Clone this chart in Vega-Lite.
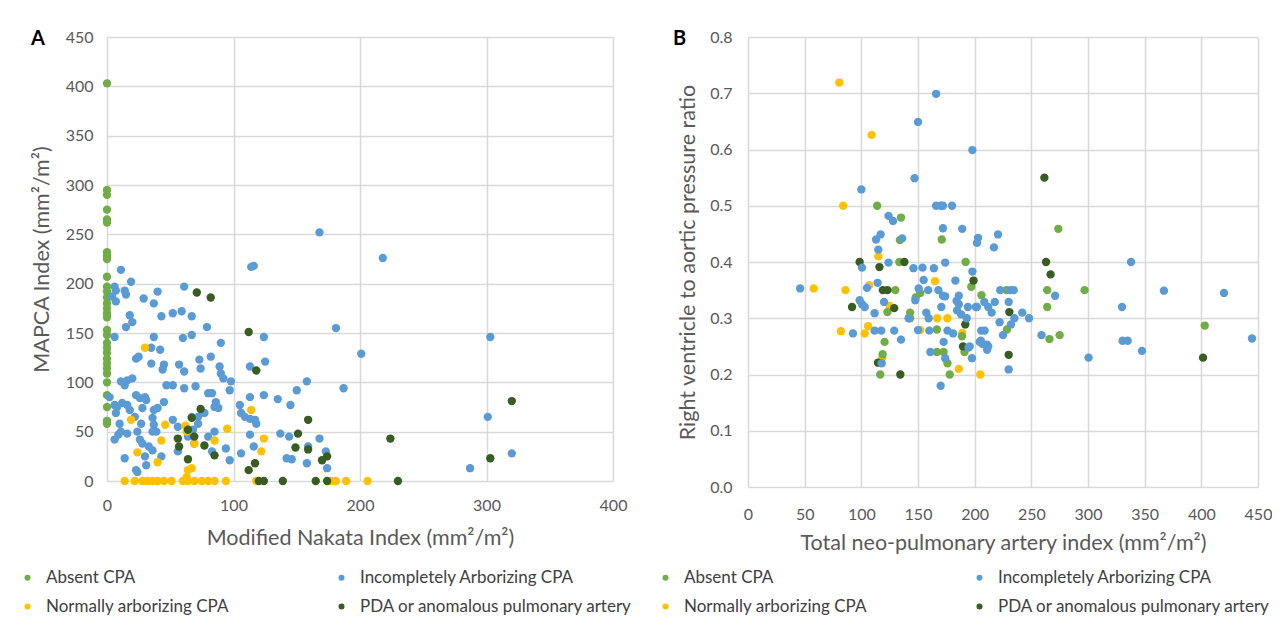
{
"$schema": "https://vega.github.io/schema/vega-lite/v6.json",
"padding": {"left": 19, "top": 29, "right": 0, "bottom": 0},
"background": "white",
"spacing": 24,
"config": {
  "view": {"stroke": null},
  "font": "Lato",
  "axis": {"grid": true, "gridColor": "#D9D9D9", "gridWidth": 1.5, "domain": false, "ticks": false, "tickSize": 0, "labelFlush": false, "labelFont": "Lato", "labelFontSize": 16, "labelColor": "#595959", "titleFont": "Lato", "titleFontSize": 21.5, "titleFontWeight": "normal", "titleColor": "#595959"},
  "legend": {"labelFont": "Lato", "labelFontSize": 17, "labelColor": "#404040", "labelLimit": 0, "symbolType": "circle", "symbolSize": 36, "symbolStrokeWidth": 0, "columns": 2, "columnPadding": 104, "rowPadding": 11, "labelOffset": 10, "title": null},
  "title": {"font": "Lato", "fontSize": 20, "fontWeight": "bold", "color": "#000000", "anchor": "start", "frame": "bounds"}
},
"datasets": {
"a": [
{"x":0,"y":403,"g":"Absent CPA"},{"x":0,"y":295,"g":"Absent CPA"},{"x":0,"y":290,"g":"Absent CPA"},{"x":0,"y":275,"g":"Absent CPA"},{"x":0,"y":265,"g":"Absent CPA"},{"x":0,"y":262,"g":"Absent CPA"},{"x":0,"y":232,"g":"Absent CPA"},{"x":0,"y":228,"g":"Absent CPA"},{"x":0,"y":225,"g":"Absent CPA"},{"x":0,"y":207,"g":"Absent CPA"},{"x":0,"y":197,"g":"Absent CPA"},{"x":0,"y":192,"g":"Absent CPA"},{"x":0,"y":186,"g":"Absent CPA"},{"x":0,"y":180,"g":"Absent CPA"},{"x":0,"y":175,"g":"Absent CPA"},{"x":0,"y":170,"g":"Absent CPA"},{"x":0,"y":166,"g":"Absent CPA"},{"x":0,"y":153,"g":"Absent CPA"},{"x":0,"y":148,"g":"Absent CPA"},{"x":0,"y":140,"g":"Absent CPA"},{"x":0,"y":135,"g":"Absent CPA"},{"x":0,"y":130,"g":"Absent CPA"},{"x":0,"y":124,"g":"Absent CPA"},{"x":0,"y":119,"g":"Absent CPA"},{"x":0,"y":114,"g":"Absent CPA"},{"x":0,"y":109,"g":"Absent CPA"},{"x":0,"y":100,"g":"Absent CPA"},{"x":0,"y":87,"g":"Absent CPA"},{"x":0,"y":75,"g":"Absent CPA"},{"x":0,"y":61,"g":"Absent CPA"},{"x":0,"y":58,"g":"Absent CPA"},
{"x":11,"y":214,"g":"Incompletely Arborizing CPA"},{"x":6,"y":197,"g":"Incompletely Arborizing CPA"},{"x":7,"y":193,"g":"Incompletely Arborizing CPA"},{"x":4,"y":187,"g":"Incompletely Arborizing CPA"},{"x":7,"y":182,"g":"Incompletely Arborizing CPA"},{"x":14,"y":193,"g":"Incompletely Arborizing CPA"},{"x":15,"y":189,"g":"Incompletely Arborizing CPA"},{"x":19,"y":202,"g":"Incompletely Arborizing CPA"},{"x":18,"y":168,"g":"Incompletely Arborizing CPA"},{"x":20,"y":161,"g":"Incompletely Arborizing CPA"},{"x":15,"y":156,"g":"Incompletely Arborizing CPA"},{"x":6,"y":146,"g":"Incompletely Arborizing CPA"},
{"x":29,"y":185,"g":"Incompletely Arborizing CPA"},{"x":37,"y":180,"g":"Incompletely Arborizing CPA"},{"x":40,"y":192,"g":"Incompletely Arborizing CPA"},{"x":43,"y":167,"g":"Incompletely Arborizing CPA"},{"x":52,"y":170,"g":"Incompletely Arborizing CPA"},{"x":59,"y":172,"g":"Incompletely Arborizing CPA"},{"x":61,"y":197,"g":"Incompletely Arborizing CPA"},{"x":67,"y":167,"g":"Incompletely Arborizing CPA"},{"x":79,"y":156,"g":"Incompletely Arborizing CPA"},{"x":60,"y":145,"g":"Incompletely Arborizing CPA"},{"x":67,"y":148,"g":"Incompletely Arborizing CPA"},{"x":37,"y":146,"g":"Incompletely Arborizing CPA"},{"x":35,"y":135,"g":"Incompletely Arborizing CPA"},{"x":42,"y":133,"g":"Incompletely Arborizing CPA"},{"x":23,"y":124,"g":"Incompletely Arborizing CPA"},{"x":25,"y":126,"g":"Incompletely Arborizing CPA"},{"x":35,"y":119,"g":"Incompletely Arborizing CPA"},{"x":45,"y":118,"g":"Incompletely Arborizing CPA"},{"x":44,"y":113,"g":"Incompletely Arborizing CPA"},{"x":57,"y":118,"g":"Incompletely Arborizing CPA"},{"x":61,"y":111,"g":"Incompletely Arborizing CPA"},{"x":73,"y":123,"g":"Incompletely Arborizing CPA"},{"x":74,"y":114,"g":"Incompletely Arborizing CPA"},{"x":82,"y":126,"g":"Incompletely Arborizing CPA"},{"x":90,"y":140,"g":"Incompletely Arborizing CPA"},{"x":89,"y":116,"g":"Incompletely Arborizing CPA"},{"x":90,"y":109,"g":"Incompletely Arborizing CPA"},{"x":92,"y":104,"g":"Incompletely Arborizing CPA"},{"x":98,"y":101,"g":"Incompletely Arborizing CPA"},{"x":97,"y":92,"g":"Incompletely Arborizing CPA"},
{"x":11,"y":101,"g":"Incompletely Arborizing CPA"},{"x":14,"y":97,"g":"Incompletely Arborizing CPA"},{"x":16,"y":102,"g":"Incompletely Arborizing CPA"},{"x":20,"y":104,"g":"Incompletely Arborizing CPA"},{"x":47,"y":97,"g":"Incompletely Arborizing CPA"},{"x":52,"y":97,"g":"Incompletely Arborizing CPA"},{"x":61,"y":94,"g":"Incompletely Arborizing CPA"},{"x":70,"y":96,"g":"Incompletely Arborizing CPA"},{"x":80,"y":89,"g":"Incompletely Arborizing CPA"},{"x":83,"y":89,"g":"Incompletely Arborizing CPA"},{"x":86,"y":80,"g":"Incompletely Arborizing CPA"},{"x":88,"y":74,"g":"Incompletely Arborizing CPA"},
{"x":2,"y":85,"g":"Incompletely Arborizing CPA"},{"x":6,"y":77,"g":"Incompletely Arborizing CPA"},{"x":7,"y":69,"g":"Incompletely Arborizing CPA"},{"x":10,"y":58,"g":"Incompletely Arborizing CPA"},{"x":8,"y":75,"g":"Incompletely Arborizing CPA"},{"x":12,"y":79,"g":"Incompletely Arborizing CPA"},{"x":16,"y":77,"g":"Incompletely Arborizing CPA"},{"x":18,"y":72,"g":"Incompletely Arborizing CPA"},{"x":22,"y":65,"g":"Incompletely Arborizing CPA"},{"x":23,"y":87,"g":"Incompletely Arborizing CPA"},{"x":26,"y":84,"g":"Incompletely Arborizing CPA"},{"x":30,"y":85,"g":"Incompletely Arborizing CPA"},{"x":31,"y":82,"g":"Incompletely Arborizing CPA"},{"x":28,"y":74,"g":"Incompletely Arborizing CPA"},{"x":37,"y":72,"g":"Incompletely Arborizing CPA"},{"x":40,"y":74,"g":"Incompletely Arborizing CPA"},{"x":45,"y":80,"g":"Incompletely Arborizing CPA"},{"x":36,"y":64,"g":"Incompletely Arborizing CPA"},{"x":37,"y":57,"g":"Incompletely Arborizing CPA"},{"x":36,"y":50,"g":"Incompletely Arborizing CPA"},{"x":39,"y":50,"g":"Incompletely Arborizing CPA"},{"x":27,"y":58,"g":"Incompletely Arborizing CPA"},{"x":52,"y":62,"g":"Incompletely Arborizing CPA"},{"x":56,"y":55,"g":"Incompletely Arborizing CPA"},{"x":67,"y":65,"g":"Incompletely Arborizing CPA"},{"x":72,"y":65,"g":"Incompletely Arborizing CPA"},{"x":77,"y":69,"g":"Incompletely Arborizing CPA"},{"x":85,"y":75,"g":"Incompletely Arborizing CPA"},{"x":72,"y":58,"g":"Incompletely Arborizing CPA"},{"x":85,"y":50,"g":"Incompletely Arborizing CPA"},
{"x":6,"y":42,"g":"Incompletely Arborizing CPA"},{"x":9,"y":47,"g":"Incompletely Arborizing CPA"},{"x":11,"y":50,"g":"Incompletely Arborizing CPA"},{"x":16,"y":48,"g":"Incompletely Arborizing CPA"},{"x":24,"y":50,"g":"Incompletely Arborizing CPA"},{"x":26,"y":42,"g":"Incompletely Arborizing CPA"},{"x":28,"y":38,"g":"Incompletely Arborizing CPA"},{"x":33,"y":35,"g":"Incompletely Arborizing CPA"},{"x":36,"y":31,"g":"Incompletely Arborizing CPA"},{"x":43,"y":25,"g":"Incompletely Arborizing CPA"},{"x":30,"y":25,"g":"Incompletely Arborizing CPA"},{"x":31,"y":16,"g":"Incompletely Arborizing CPA"},{"x":24,"y":9,"g":"Incompletely Arborizing CPA"},{"x":23,"y":11,"g":"Incompletely Arborizing CPA"},{"x":14,"y":23,"g":"Incompletely Arborizing CPA"},{"x":56,"y":30,"g":"Incompletely Arborizing CPA"},{"x":69,"y":38,"g":"Incompletely Arborizing CPA"},{"x":64,"y":45,"g":"Incompletely Arborizing CPA"},{"x":68,"y":52,"g":"Incompletely Arborizing CPA"},{"x":80,"y":45,"g":"Incompletely Arborizing CPA"},{"x":83,"y":30,"g":"Incompletely Arborizing CPA"},{"x":94,"y":33,"g":"Incompletely Arborizing CPA"},{"x":97,"y":21,"g":"Incompletely Arborizing CPA"},
{"x":105,"y":77,"g":"Incompletely Arborizing CPA"},{"x":106,"y":69,"g":"Incompletely Arborizing CPA"},{"x":109,"y":65,"g":"Incompletely Arborizing CPA"},{"x":113,"y":63,"g":"Incompletely Arborizing CPA"},{"x":117,"y":62,"g":"Incompletely Arborizing CPA"},{"x":118,"y":58,"g":"Incompletely Arborizing CPA"},{"x":113,"y":47,"g":"Incompletely Arborizing CPA"},{"x":116,"y":35,"g":"Incompletely Arborizing CPA"},{"x":106,"y":28,"g":"Incompletely Arborizing CPA"},{"x":113,"y":85,"g":"Incompletely Arborizing CPA"},{"x":124,"y":87,"g":"Incompletely Arborizing CPA"},{"x":135,"y":83,"g":"Incompletely Arborizing CPA"},{"x":145,"y":77,"g":"Incompletely Arborizing CPA"},{"x":150,"y":92,"g":"Incompletely Arborizing CPA"},{"x":158,"y":101,"g":"Incompletely Arborizing CPA"},{"x":113,"y":116,"g":"Incompletely Arborizing CPA"},{"x":125,"y":121,"g":"Incompletely Arborizing CPA"},{"x":124,"y":146,"g":"Incompletely Arborizing CPA"},{"x":114,"y":217,"g":"Incompletely Arborizing CPA"},{"x":116,"y":218,"g":"Incompletely Arborizing CPA"},{"x":137,"y":48,"g":"Incompletely Arborizing CPA"},{"x":144,"y":45,"g":"Incompletely Arborizing CPA"},{"x":142,"y":23,"g":"Incompletely Arborizing CPA"},{"x":146,"y":22,"g":"Incompletely Arborizing CPA"},{"x":159,"y":35,"g":"Incompletely Arborizing CPA"},{"x":158,"y":18,"g":"Incompletely Arborizing CPA"},{"x":168,"y":43,"g":"Incompletely Arborizing CPA"},{"x":173,"y":30,"g":"Incompletely Arborizing CPA"},{"x":174,"y":13,"g":"Incompletely Arborizing CPA"},
{"x":168,"y":252,"g":"Incompletely Arborizing CPA"},{"x":218,"y":226,"g":"Incompletely Arborizing CPA"},{"x":181,"y":155,"g":"Incompletely Arborizing CPA"},{"x":303,"y":146,"g":"Incompletely Arborizing CPA"},{"x":201,"y":129,"g":"Incompletely Arborizing CPA"},{"x":187,"y":94,"g":"Incompletely Arborizing CPA"},{"x":301,"y":65,"g":"Incompletely Arborizing CPA"},{"x":287,"y":13,"g":"Incompletely Arborizing CPA"},{"x":320,"y":28,"g":"Incompletely Arborizing CPA"},
{"x":30,"y":135,"g":"Normally arborizing CPA"},{"x":19,"y":62,"g":"Normally arborizing CPA"},{"x":24,"y":29,"g":"Normally arborizing CPA"},{"x":40,"y":19,"g":"Normally arborizing CPA"},{"x":43,"y":41,"g":"Normally arborizing CPA"},{"x":46,"y":57,"g":"Normally arborizing CPA"},{"x":62,"y":56,"g":"Normally arborizing CPA"},{"x":63,"y":50,"g":"Normally arborizing CPA"},{"x":69,"y":38,"g":"Normally arborizing CPA"},{"x":85,"y":41,"g":"Normally arborizing CPA"},{"x":95,"y":53,"g":"Normally arborizing CPA"},{"x":114,"y":72,"g":"Normally arborizing CPA"},{"x":124,"y":43,"g":"Normally arborizing CPA"},{"x":122,"y":30,"g":"Normally arborizing CPA"},{"x":63,"y":4,"g":"Normally arborizing CPA"},{"x":64,"y":11,"g":"Normally arborizing CPA"},{"x":67,"y":13,"g":"Normally arborizing CPA"},
{"x":14,"y":0,"g":"Normally arborizing CPA"},{"x":22,"y":0,"g":"Normally arborizing CPA"},{"x":28,"y":0,"g":"Normally arborizing CPA"},{"x":32,"y":0,"g":"Normally arborizing CPA"},{"x":36,"y":0,"g":"Normally arborizing CPA"},{"x":40,"y":0,"g":"Normally arborizing CPA"},{"x":45,"y":0,"g":"Normally arborizing CPA"},{"x":51,"y":0,"g":"Normally arborizing CPA"},{"x":60,"y":0,"g":"Normally arborizing CPA"},{"x":64,"y":0,"g":"Normally arborizing CPA"},{"x":69,"y":0,"g":"Normally arborizing CPA"},{"x":75,"y":0,"g":"Normally arborizing CPA"},{"x":80,"y":0,"g":"Normally arborizing CPA"},{"x":85,"y":0,"g":"Normally arborizing CPA"},{"x":94,"y":0,"g":"Normally arborizing CPA"},{"x":118,"y":0,"g":"Normally arborizing CPA"},{"x":177,"y":0,"g":"Normally arborizing CPA"},{"x":181,"y":0,"g":"Normally arborizing CPA"},{"x":189,"y":0,"g":"Normally arborizing CPA"},{"x":206,"y":0,"g":"Normally arborizing CPA"},
{"x":71,"y":191,"g":"PDA or anomalous pulmonary artery"},{"x":82,"y":186,"g":"PDA or anomalous pulmonary artery"},{"x":112,"y":151,"g":"PDA or anomalous pulmonary artery"},{"x":118,"y":112,"g":"PDA or anomalous pulmonary artery"},{"x":74,"y":73,"g":"PDA or anomalous pulmonary artery"},{"x":67,"y":64,"g":"PDA or anomalous pulmonary artery"},{"x":64,"y":52,"g":"PDA or anomalous pulmonary artery"},{"x":69,"y":45,"g":"PDA or anomalous pulmonary artery"},{"x":56,"y":43,"g":"PDA or anomalous pulmonary artery"},{"x":57,"y":35,"g":"PDA or anomalous pulmonary artery"},{"x":77,"y":36,"g":"PDA or anomalous pulmonary artery"},{"x":85,"y":26,"g":"PDA or anomalous pulmonary artery"},{"x":64,"y":22,"g":"PDA or anomalous pulmonary artery"},{"x":112,"y":11,"g":"PDA or anomalous pulmonary artery"},{"x":117,"y":18,"g":"PDA or anomalous pulmonary artery"},{"x":151,"y":48,"g":"PDA or anomalous pulmonary artery"},{"x":149,"y":34,"g":"PDA or anomalous pulmonary artery"},{"x":159,"y":32,"g":"PDA or anomalous pulmonary artery"},{"x":170,"y":21,"g":"PDA or anomalous pulmonary artery"},{"x":174,"y":25,"g":"PDA or anomalous pulmonary artery"},{"x":120,"y":0,"g":"PDA or anomalous pulmonary artery"},{"x":124,"y":0,"g":"PDA or anomalous pulmonary artery"},{"x":139,"y":0,"g":"PDA or anomalous pulmonary artery"},{"x":165,"y":0,"g":"PDA or anomalous pulmonary artery"},{"x":174,"y":0,"g":"PDA or anomalous pulmonary artery"},{"x":159,"y":62,"g":"PDA or anomalous pulmonary artery"},{"x":320,"y":81,"g":"PDA or anomalous pulmonary artery"},{"x":224,"y":43,"g":"PDA or anomalous pulmonary artery"},{"x":303,"y":23,"g":"PDA or anomalous pulmonary artery"},{"x":230,"y":0,"g":"PDA or anomalous pulmonary artery"}
],
"b": [
{"x":80.6,"y":0.719,"g":"Normally arborizing CPA"},{"x":109,"y":0.626,"g":"Normally arborizing CPA"},{"x":84,"y":0.5,"g":"Normally arborizing CPA"},{"x":115,"y":0.41,"g":"Normally arborizing CPA"},{"x":165,"y":0.366,"g":"Normally arborizing CPA"},{"x":58,"y":0.353,"g":"Normally arborizing CPA"},{"x":86,"y":0.35,"g":"Normally arborizing CPA"},{"x":107,"y":0.359,"g":"Normally arborizing CPA"},{"x":125,"y":0.322,"g":"Normally arborizing CPA"},{"x":167,"y":0.3,"g":"Normally arborizing CPA"},{"x":176,"y":0.3,"g":"Normally arborizing CPA"},{"x":82,"y":0.277,"g":"Normally arborizing CPA"},{"x":103,"y":0.273,"g":"Normally arborizing CPA"},{"x":106,"y":0.286,"g":"Normally arborizing CPA"},{"x":152,"y":0.279,"g":"Normally arborizing CPA"},{"x":189,"y":0.274,"g":"Normally arborizing CPA"},{"x":118.5,"y":0.23,"g":"Normally arborizing CPA"},{"x":186,"y":0.21,"g":"Normally arborizing CPA"},{"x":205,"y":0.2,"g":"Normally arborizing CPA"},
{"x":114,"y":0.5,"g":"Absent CPA"},{"x":135,"y":0.479,"g":"Absent CPA"},{"x":134,"y":0.439,"g":"Absent CPA"},{"x":171,"y":0.44,"g":"Absent CPA"},{"x":133.5,"y":0.4,"g":"Absent CPA"},{"x":192,"y":0.4,"g":"Absent CPA"},{"x":197,"y":0.356,"g":"Absent CPA"},{"x":130,"y":0.35,"g":"Absent CPA"},{"x":152,"y":0.345,"g":"Absent CPA"},{"x":123,"y":0.311,"g":"Absent CPA"},{"x":148,"y":0.337,"g":"Absent CPA"},{"x":143,"y":0.31,"g":"Absent CPA"},{"x":143,"y":0.3,"g":"Absent CPA"},{"x":166.7,"y":0.28,"g":"Absent CPA"},{"x":120.5,"y":0.258,"g":"Absent CPA"},{"x":188.8,"y":0.268,"g":"Absent CPA"},{"x":191,"y":0.24,"g":"Absent CPA"},{"x":166.7,"y":0.24,"g":"Absent CPA"},{"x":172.6,"y":0.24,"g":"Absent CPA"},{"x":176,"y":0.22,"g":"Absent CPA"},{"x":118.8,"y":0.236,"g":"Absent CPA"},{"x":116.7,"y":0.2,"g":"Absent CPA"},{"x":178,"y":0.2,"g":"Absent CPA"},{"x":273.8,"y":0.459,"g":"Absent CPA"},{"x":228,"y":0.35,"g":"Absent CPA"},{"x":264,"y":0.35,"g":"Absent CPA"},{"x":297,"y":0.35,"g":"Absent CPA"},{"x":206,"y":0.341,"g":"Absent CPA"},{"x":264,"y":0.32,"g":"Absent CPA"},{"x":228.5,"y":0.28,"g":"Absent CPA"},{"x":275,"y":0.27,"g":"Absent CPA"},{"x":266,"y":0.263,"g":"Absent CPA"},{"x":403,"y":0.287,"g":"Absent CPA"},
{"x":98.5,"y":0.4,"g":"PDA or anomalous pulmonary artery"},{"x":116,"y":0.391,"g":"PDA or anomalous pulmonary artery"},{"x":138,"y":0.4,"g":"PDA or anomalous pulmonary artery"},{"x":199,"y":0.367,"g":"PDA or anomalous pulmonary artery"},{"x":119,"y":0.35,"g":"PDA or anomalous pulmonary artery"},{"x":123,"y":0.35,"g":"PDA or anomalous pulmonary artery"},{"x":129,"y":0.318,"g":"PDA or anomalous pulmonary artery"},{"x":91.8,"y":0.32,"g":"PDA or anomalous pulmonary artery"},{"x":191.7,"y":0.289,"g":"PDA or anomalous pulmonary artery"},{"x":189.7,"y":0.25,"g":"PDA or anomalous pulmonary artery"},{"x":114.7,"y":0.221,"g":"PDA or anomalous pulmonary artery"},{"x":134.4,"y":0.2,"g":"PDA or anomalous pulmonary artery"},{"x":261.5,"y":0.55,"g":"PDA or anomalous pulmonary artery"},{"x":263,"y":0.4,"g":"PDA or anomalous pulmonary artery"},{"x":267,"y":0.378,"g":"PDA or anomalous pulmonary artery"},{"x":230.6,"y":0.311,"g":"PDA or anomalous pulmonary artery"},{"x":230,"y":0.235,"g":"PDA or anomalous pulmonary artery"},{"x":401.5,"y":0.23,"g":"PDA or anomalous pulmonary artery"},
{"x":166,"y":0.699,"g":"Incompletely Arborizing CPA"},{"x":150,"y":0.649,"g":"Incompletely Arborizing CPA"},{"x":198,"y":0.599,"g":"Incompletely Arborizing CPA"},{"x":147,"y":0.549,"g":"Incompletely Arborizing CPA"},{"x":100,"y":0.529,"g":"Incompletely Arborizing CPA"},{"x":166,"y":0.5,"g":"Incompletely Arborizing CPA"},{"x":170,"y":0.5,"g":"Incompletely Arborizing CPA"},{"x":172,"y":0.5,"g":"Incompletely Arborizing CPA"},{"x":180,"y":0.5,"g":"Incompletely Arborizing CPA"},{"x":124,"y":0.482,"g":"Incompletely Arborizing CPA"},{"x":128,"y":0.473,"g":"Incompletely Arborizing CPA"},{"x":172,"y":0.46,"g":"Incompletely Arborizing CPA"},{"x":189,"y":0.459,"g":"Incompletely Arborizing CPA"},{"x":117,"y":0.449,"g":"Incompletely Arborizing CPA"},{"x":113,"y":0.44,"g":"Incompletely Arborizing CPA"},{"x":136,"y":0.442,"g":"Incompletely Arborizing CPA"},{"x":115,"y":0.422,"g":"Incompletely Arborizing CPA"},{"x":203,"y":0.443,"g":"Incompletely Arborizing CPA"},{"x":202,"y":0.434,"g":"Incompletely Arborizing CPA"},
{"x":100.6,"y":0.39,"g":"Incompletely Arborizing CPA"},{"x":124,"y":0.399,"g":"Incompletely Arborizing CPA"},{"x":146,"y":0.389,"g":"Incompletely Arborizing CPA"},{"x":154,"y":0.39,"g":"Incompletely Arborizing CPA"},{"x":164,"y":0.389,"g":"Incompletely Arborizing CPA"},{"x":174,"y":0.399,"g":"Incompletely Arborizing CPA"},{"x":198,"y":0.383,"g":"Incompletely Arborizing CPA"},{"x":155,"y":0.368,"g":"Incompletely Arborizing CPA"},{"x":183,"y":0.367,"g":"Incompletely Arborizing CPA"},{"x":46,"y":0.353,"g":"Incompletely Arborizing CPA"},{"x":114.4,"y":0.363,"g":"Incompletely Arborizing CPA"},{"x":105,"y":0.354,"g":"Incompletely Arborizing CPA"},{"x":150.6,"y":0.353,"g":"Incompletely Arborizing CPA"},{"x":159,"y":0.35,"g":"Incompletely Arborizing CPA"},{"x":168,"y":0.35,"g":"Incompletely Arborizing CPA"},{"x":172,"y":0.34,"g":"Incompletely Arborizing CPA"},{"x":174,"y":0.339,"g":"Incompletely Arborizing CPA"},{"x":98.5,"y":0.332,"g":"Incompletely Arborizing CPA"},{"x":103,"y":0.32,"g":"Incompletely Arborizing CPA"},{"x":100.6,"y":0.325,"g":"Incompletely Arborizing CPA"},{"x":111.7,"y":0.309,"g":"Incompletely Arborizing CPA"},{"x":120,"y":0.329,"g":"Incompletely Arborizing CPA"},{"x":147.6,"y":0.332,"g":"Incompletely Arborizing CPA"},{"x":186,"y":0.34,"g":"Incompletely Arborizing CPA"},{"x":184,"y":0.331,"g":"Incompletely Arborizing CPA"},{"x":186,"y":0.325,"g":"Incompletely Arborizing CPA"},{"x":184.5,"y":0.314,"g":"Incompletely Arborizing CPA"},{"x":188,"y":0.307,"g":"Incompletely Arborizing CPA"},{"x":170.6,"y":0.32,"g":"Incompletely Arborizing CPA"},{"x":202,"y":0.32,"g":"Incompletely Arborizing CPA"},{"x":194,"y":0.32,"g":"Incompletely Arborizing CPA"},{"x":157.3,"y":0.31,"g":"Incompletely Arborizing CPA"},{"x":159.4,"y":0.3,"g":"Incompletely Arborizing CPA"},{"x":141.7,"y":0.3,"g":"Incompletely Arborizing CPA"},{"x":193,"y":0.3,"g":"Incompletely Arborizing CPA"},{"x":92.6,"y":0.273,"g":"Incompletely Arborizing CPA"},{"x":111.7,"y":0.278,"g":"Incompletely Arborizing CPA"},{"x":117.6,"y":0.278,"g":"Incompletely Arborizing CPA"},{"x":129,"y":0.278,"g":"Incompletely Arborizing CPA"},{"x":135,"y":0.262,"g":"Incompletely Arborizing CPA"},{"x":150,"y":0.279,"g":"Incompletely Arborizing CPA"},{"x":160,"y":0.278,"g":"Incompletely Arborizing CPA"},{"x":176,"y":0.278,"g":"Incompletely Arborizing CPA"},{"x":181,"y":0.273,"g":"Incompletely Arborizing CPA"},{"x":205.8,"y":0.278,"g":"Incompletely Arborizing CPA"},{"x":208.8,"y":0.278,"g":"Incompletely Arborizing CPA"},{"x":172.6,"y":0.258,"g":"Incompletely Arborizing CPA"},{"x":194.6,"y":0.248,"g":"Incompletely Arborizing CPA"},{"x":204.4,"y":0.258,"g":"Incompletely Arborizing CPA"},{"x":207,"y":0.254,"g":"Incompletely Arborizing CPA"},{"x":211,"y":0.253,"g":"Incompletely Arborizing CPA"},{"x":211,"y":0.244,"g":"Incompletely Arborizing CPA"},{"x":160.9,"y":0.24,"g":"Incompletely Arborizing CPA"},{"x":174,"y":0.229,"g":"Incompletely Arborizing CPA"},{"x":197.6,"y":0.229,"g":"Incompletely Arborizing CPA"},{"x":118,"y":0.22,"g":"Incompletely Arborizing CPA"},{"x":170,"y":0.18,"g":"Incompletely Arborizing CPA"},
{"x":220.6,"y":0.449,"g":"Incompletely Arborizing CPA"},{"x":217,"y":0.426,"g":"Incompletely Arborizing CPA"},{"x":338,"y":0.4,"g":"Incompletely Arborizing CPA"},{"x":222.6,"y":0.35,"g":"Incompletely Arborizing CPA"},{"x":231.5,"y":0.35,"g":"Incompletely Arborizing CPA"},{"x":234.4,"y":0.35,"g":"Incompletely Arborizing CPA"},{"x":271,"y":0.34,"g":"Incompletely Arborizing CPA"},{"x":367,"y":0.349,"g":"Incompletely Arborizing CPA"},{"x":420,"y":0.345,"g":"Incompletely Arborizing CPA"},{"x":208.5,"y":0.329,"g":"Incompletely Arborizing CPA"},{"x":217.8,"y":0.329,"g":"Incompletely Arborizing CPA"},{"x":230,"y":0.329,"g":"Incompletely Arborizing CPA"},{"x":201,"y":0.32,"g":"Incompletely Arborizing CPA"},{"x":212,"y":0.32,"g":"Incompletely Arborizing CPA"},{"x":215,"y":0.31,"g":"Incompletely Arborizing CPA"},{"x":330,"y":0.32,"g":"Incompletely Arborizing CPA"},{"x":242,"y":0.31,"g":"Incompletely Arborizing CPA"},{"x":235,"y":0.3,"g":"Incompletely Arborizing CPA"},{"x":232,"y":0.289,"g":"Incompletely Arborizing CPA"},{"x":248,"y":0.3,"g":"Incompletely Arborizing CPA"},{"x":222,"y":0.293,"g":"Incompletely Arborizing CPA"},{"x":225,"y":0.27,"g":"Incompletely Arborizing CPA"},{"x":259,"y":0.27,"g":"Incompletely Arborizing CPA"},{"x":330.5,"y":0.26,"g":"Incompletely Arborizing CPA"},{"x":335,"y":0.26,"g":"Incompletely Arborizing CPA"},{"x":444.7,"y":0.264,"g":"Incompletely Arborizing CPA"},{"x":205.5,"y":0.26,"g":"Incompletely Arborizing CPA"},{"x":212,"y":0.25,"g":"Incompletely Arborizing CPA"},{"x":195.6,"y":0.25,"g":"Incompletely Arborizing CPA"},{"x":347.6,"y":0.242,"g":"Incompletely Arborizing CPA"},{"x":300.5,"y":0.23,"g":"Incompletely Arborizing CPA"},{"x":230,"y":0.209,"g":"Incompletely Arborizing CPA"}
]
},
"hconcat": [
{
  "width": 506, "height": 444,
  "data": {"name": "a"},
  "title": {"text": "A", "dy": 24, "dx": 12},
  "mark": {"type": "circle", "size": 70, "opacity": 1},
  "encoding": {
    "x": {"field": "x", "type": "quantitative", "scale": {"domain": [0, 400], "nice": false}, "axis": {"values": [0, 100, 200, 300, 400], "labelPadding": 16, "title": "Modified Nakata Index (mm²/m²)", "titlePadding": 14}},
    "y": {"field": "y", "type": "quantitative", "scale": {"domain": [0, 450], "nice": false}, "axis": {"values": [0, 50, 100, 150, 200, 250, 300, 350, 400, 450], "labelPadding": 14, "title": "MAPCA Index (mm²/m²)", "titlePadding": 12}},
    "color": {"field": "g", "type": "nominal", "scale": {"domain": ["Absent CPA", "Incompletely Arborizing CPA", "Normally arborizing CPA", "PDA or anomalous pulmonary artery"], "range": ["#70AD47", "#5B9BD5", "#FFC000", "#385D22"]}, "legend": {"orient": "none", "legendX": -88, "legendY": 532, "direction": "horizontal"}}
  }
},
{
  "width": 510, "height": 450,
  "data": {"name": "b"},
  "title": {"text": "B", "dy": 24, "dx": 16},
  "mark": {"type": "circle", "size": 70, "opacity": 1},
  "encoding": {
    "x": {"field": "x", "type": "quantitative", "scale": {"domain": [0, 450], "nice": false}, "axis": {"values": [0, 50, 100, 150, 200, 250, 300, 350, 400, 450], "labelPadding": 19, "title": "Total neo-pulmonary artery index (mm²/m²)", "titlePadding": 10}},
    "y": {"field": "y", "type": "quantitative", "scale": {"domain": [0, 0.8], "nice": false}, "axis": {"values": [0, 0.1, 0.2, 0.3, 0.4, 0.5, 0.6, 0.7, 0.8], "format": ".1f", "labelPadding": 16, "title": "Right ventricle to aortic pressure ratio", "titlePadding": 10}},
    "color": {"field": "g", "type": "nominal", "scale": {"domain": ["Absent CPA", "Incompletely Arborizing CPA", "Normally arborizing CPA", "PDA or anomalous pulmonary artery"], "range": ["#70AD47", "#5B9BD5", "#FFC000", "#385D22"]}, "legend": {"orient": "none", "legendX": -91, "legendY": 532, "direction": "horizontal"}}
  }
}
],
"resolve": {"scale": {"color": "independent"}, "legend": {"color": "independent"}}
}
